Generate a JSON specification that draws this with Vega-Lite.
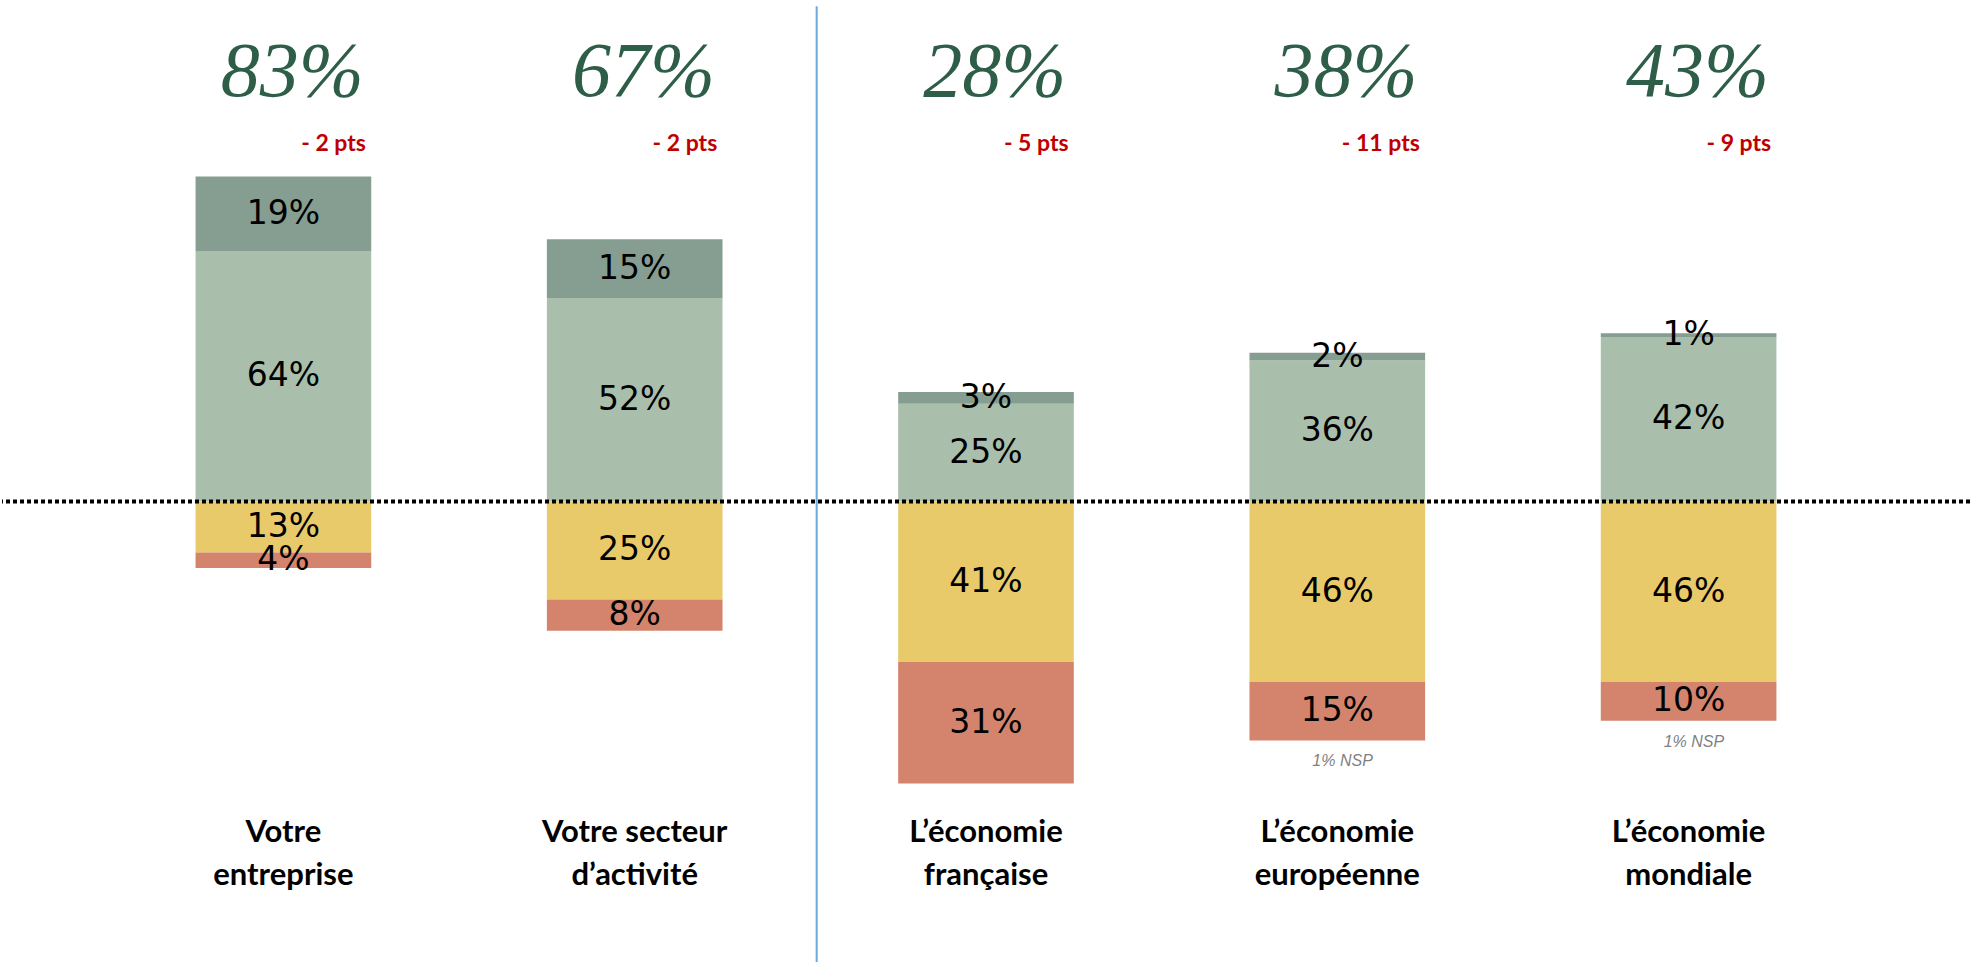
{
  "$schema": "https://vega.github.io/schema/vega-lite/v6.json",
  "width": 1972,
  "height": 963,
  "autosize": {"type": "fit", "contains": "padding"},
  "padding": 0,
  "background": "white",
  "config": {"view": {"stroke": null}},
  "datasets": {
    "segments": [
      {"item": "Votre entreprise", "segment": "Plutôt confiant", "value": 64},
      {"item": "Votre entreprise", "segment": "Très confiant", "value": 19},
      {"item": "Votre entreprise", "segment": "Plutôt pas confiant", "value": -13},
      {"item": "Votre entreprise", "segment": "Pas du tout confiant", "value": -4},
      {"item": "Votre secteur d’activité", "segment": "Plutôt confiant", "value": 52},
      {"item": "Votre secteur d’activité", "segment": "Très confiant", "value": 15},
      {"item": "Votre secteur d’activité", "segment": "Plutôt pas confiant", "value": -25},
      {"item": "Votre secteur d’activité", "segment": "Pas du tout confiant", "value": -8},
      {"item": "L’économie française", "segment": "Plutôt confiant", "value": 25},
      {"item": "L’économie française", "segment": "Très confiant", "value": 3},
      {"item": "L’économie française", "segment": "Plutôt pas confiant", "value": -41},
      {"item": "L’économie française", "segment": "Pas du tout confiant", "value": -31},
      {"item": "L’économie européenne", "segment": "Plutôt confiant", "value": 36},
      {"item": "L’économie européenne", "segment": "Très confiant", "value": 2},
      {"item": "L’économie européenne", "segment": "Plutôt pas confiant", "value": -46},
      {"item": "L’économie européenne", "segment": "Pas du tout confiant", "value": -15},
      {"item": "L’économie mondiale", "segment": "Plutôt confiant", "value": 42},
      {"item": "L’économie mondiale", "segment": "Très confiant", "value": 1},
      {"item": "L’économie mondiale", "segment": "Plutôt pas confiant", "value": -46},
      {"item": "L’économie mondiale", "segment": "Pas du tout confiant", "value": -10}
    ],
    "totals": [
      {"item": "Votre entreprise", "total": "83%", "evolution": "- 2 pts", "nsp": null, "label": "Votre\nentreprise"},
      {"item": "Votre secteur d’activité", "total": "67%", "evolution": "- 2 pts", "nsp": null, "label": "Votre secteur\nd’activité"},
      {"item": "L’économie française", "total": "28%", "evolution": "- 5 pts", "nsp": null, "label": "L’économie\nfrançaise"},
      {"item": "L’économie européenne", "total": "38%", "evolution": "- 11 pts", "nsp": "1% NSP", "label": "L’économie\neuropéenne"},
      {"item": "L’économie mondiale", "total": "43%", "evolution": "- 9 pts", "nsp": "1% NSP", "label": "L’économie\nmondiale"}
    ]
  },
  "layer": [
    {
      "data": {"name": "segments"},
      "transform": [
        {"stack": "value", "groupby": ["item"], "as": ["v0", "v1"], "offset": "zero"}
      ],
      "mark": {"type": "bar"},
      "encoding": {
        "x": {
          "field": "item",
          "type": "nominal",
          "scale": {"domain": ["Votre entreprise", "Votre secteur d’activité", "L’économie française", "L’économie européenne", "L’économie mondiale"], "paddingInner": 0.5, "paddingOuter": 0.551},
          "axis": null
        },
        "y": {"field": "v0", "type": "quantitative", "scale": {"domain": [-117.6, 128.1], "nice": false, "zero": false}, "axis": null},
        "y2": {"field": "v1"},
        "color": {
          "field": "segment",
          "type": "nominal",
          "scale": {
            "domain": ["Très confiant", "Plutôt confiant", "Plutôt pas confiant", "Pas du tout confiant"],
            "range": ["#869D91", "#A9BFAB", "#E9CA6A", "#D4846C"]
          },
          "legend": null
        }
      }
    },
    {
      "data": {"name": "segments"},
      "transform": [
        {"stack": "value", "groupby": ["item"], "as": ["v0", "v1"], "offset": "zero"},
        {"calculate": "(datum.v0 + datum.v1) / 2", "as": "mid"},
        {"calculate": "abs(datum.value) + '%'", "as": "lab"}
      ],
      "mark": {"type": "text", "font": "DejaVu Sans", "fontSize": 33, "color": "#000000", "baseline": "middle", "align": "center"},
      "encoding": {
        "x": {"field": "item", "type": "nominal", "scale": {"domain": ["Votre entreprise", "Votre secteur d’activité", "L’économie française", "L’économie européenne", "L’économie mondiale"]}},
        "y": {"field": "mid", "type": "quantitative"},
        "text": {"field": "lab"}
      }
    },
    {
      "data": {"name": "segments"},
      "transform": [
        {"stack": "value", "groupby": ["item"], "as": ["v0", "v1"], "offset": "zero"},
        {"filter": "datum.segment === 'Pas du tout confiant'"},
        {"lookup": "item", "from": {"data": {"name": "totals"}, "key": "item", "fields": ["nsp"]}},
        {"filter": "datum.nsp != null"}
      ],
      "mark": {"type": "text", "font": "Liberation Sans", "fontStyle": "italic", "fontSize": 16, "color": "#7F7F7F", "baseline": "top", "align": "center", "dy": 13},
      "encoding": {
        "x": {"field": "item", "type": "nominal", "bandPosition": 0.53, "scale": {"domain": ["Votre entreprise", "Votre secteur d’activité", "L’économie française", "L’économie européenne", "L’économie mondiale"]}},
        "y": {"field": "v1", "type": "quantitative"},
        "text": {"field": "nsp"}
      }
    },
    {
      "data": {"values": [{}]},
      "mark": {"type": "rule", "color": "#000000", "strokeWidth": 4, "strokeDash": [4, 3]},
      "encoding": {"y": {"datum": 0, "type": "quantitative"}}
    },
    {
      "data": {"values": [{}]},
      "mark": {"type": "rule", "color": "#6FA8DC", "strokeWidth": 2},
      "encoding": {
        "x": {"datum": "Votre secteur d’activité", "type": "nominal", "bandPosition": 1.536, "scale": {"domain": ["Votre entreprise", "Votre secteur d’activité", "L’économie française", "L’économie européenne", "L’économie mondiale"]}},
        "y": {"datum": 126.5, "type": "quantitative"},
        "y2": {"datum": -117.6}
      }
    },
    {
      "data": {"name": "totals"},
      "mark": {"type": "text", "font": "Liberation Serif", "fontStyle": "italic", "fontSize": 78, "color": "#2E5E48", "baseline": "alphabetic", "align": "center"},
      "encoding": {
        "x": {"field": "item", "type": "nominal", "bandPosition": 0.55, "scale": {"domain": ["Votre entreprise", "Votre secteur d’activité", "L’économie française", "L’économie européenne", "L’économie mondiale"]}},
        "y": {"datum": 103.5, "type": "quantitative"},
        "text": {"field": "total"}
      }
    },
    {
      "data": {"name": "totals"},
      "mark": {"type": "text", "font": "Lato", "fontWeight": "bold", "fontSize": 23, "color": "#C00000", "baseline": "alphabetic", "align": "right"},
      "encoding": {
        "x": {"field": "item", "type": "nominal", "bandPosition": 0.97, "scale": {"domain": ["Votre entreprise", "Votre secteur d’activité", "L’économie française", "L’économie européenne", "L’économie mondiale"]}},
        "y": {"datum": 89.5, "type": "quantitative"},
        "text": {"field": "evolution"}
      }
    },
    {
      "data": {"name": "totals"},
      "mark": {"type": "text", "font": "Lato", "fontWeight": "bold", "fontSize": 31, "color": "#000000", "baseline": "middle", "align": "center", "lineBreak": "\n", "lineHeight": 43},
      "encoding": {
        "x": {"field": "item", "type": "nominal", "scale": {"domain": ["Votre entreprise", "Votre secteur d’activité", "L’économie française", "L’économie européenne", "L’économie mondiale"]}},
        "y": {"datum": -84.7, "type": "quantitative"},
        "text": {"field": "label"}
      }
    }
  ]
}
